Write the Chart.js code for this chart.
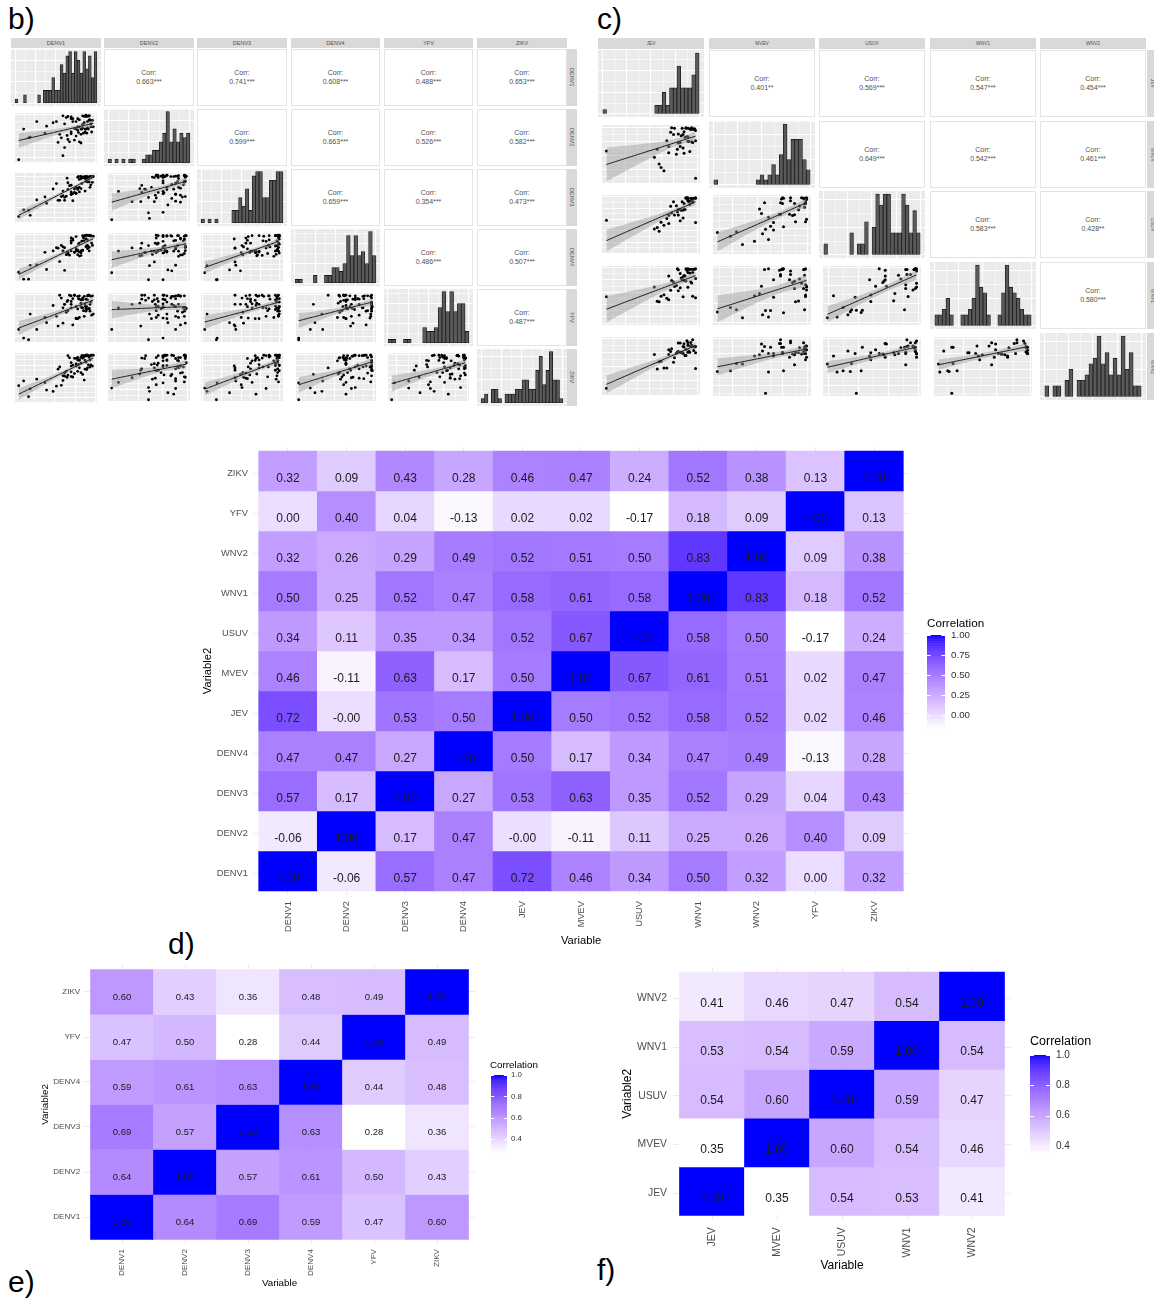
<!DOCTYPE html>
<html lang="en">
<head>
<meta charset="utf-8">
<title>Flavivirus antibody correlations</title>
<script src="https://cdn.jsdelivr.net/npm/chart.js@4.4.1/dist/chart.umd.min.js"></script>
<style>
  html, body { margin: 0; padding: 0; background: #ffffff; }
  body { position: relative; width: 1154px; height: 1299px; overflow: hidden;
         font-family: "Liberation Sans", Arial, Helvetica, sans-serif; }
  canvas { position: absolute; }
  .tag { position: absolute; font-size: 30px; line-height: 30px; color: #000; }
  .strip { position: absolute; background: #d9d9d9; color: #4d4d4d; display: flex; opacity: 0.99;
           align-items: center; justify-content: center; overflow: hidden; white-space: nowrap; }
  .strip.side span { writing-mode: vertical-rl; }
  .corr { position: absolute; box-sizing: border-box; background: #fff; border: 1px solid #e4e4e4;
          color: #505050; display: flex; flex-direction: column; align-items: center; opacity: 0.99;
          justify-content: center; text-align: center; white-space: nowrap; }
</style>
</head>
<body>
<div class="tag" style="left:8px;top:4px">b)</div>
<div class="tag" style="left:597px;top:4px">c)</div>
<div class="tag" style="left:168px;top:929px">d)</div>
<div class="tag" style="left:8px;top:1267px">e)</div>
<div class="tag" style="left:597px;top:1255px">f)</div>
<script>
// ---------------------------------------------------------------------------
// Panel b: DENV1-4, YFV, ZIKV (one value per serum sample)
// ---------------------------------------------------------------------------
const bVars = ['DENV1', 'DENV2', 'DENV3', 'DENV4', 'YFV', 'ZIKV'];
const bDENV1 = [90,78,72,95,70,84,58,88,82,6, 93,76,89,62,85,40,86,74,97,70, 52,80,92,68,18,87,66,94,65,83, 48,76,90,72,88,60,92,80,12,84, 64,91,78,82,54,96,70,79,93,28, 74,88,66,86,56,94,78,38,90,76, 92,60,84,20,87,80,62,89,70,82];
const bDENV2 = [97,73,88,70,67,98,60,97,51,22, 90,88,68,84,68,80,86,76,79,70, 88,79,98,53,60,75,97,84,64,75, 86,63,88,93,75,29,98,53,75,83, 95,75,79,66,52,90,96,69,91,88, 56,99,57,97,66,79,93,68,77,75, 91,98,77,61,70,91,43,98,93,75];
const bDENV3 = [86,97,58,98,56,96,51,99,70,3, 97,58,99,49,98,35,96,61,99,62, 82,73,86,77,18,64,84,79,95,82, 69,73,97,41,87,64,98,62,19,96, 52,94,68,94,42,85,78,99,73,43, 69,97,68,98,42,99,71,50,96,59, 98,53,96,6,94,92,42,94,56,99];
const bDENV4 = [89,67,88,82,82,66,77,91,55,19, 98,70,99,23,93,25,87,62,97,65, 72,63,98,56,4,98,60,97,58,86, 65,65,70,91,74,65,73,82,4,98, 57,98,65,65,71,77,87,80,98,35, 62,98,62,97,42,98,57,62,77,96, 65,74,67,34,98,54,72,76,93,61];
const bYFV   = [97,74,92,63,82,76,93,70,84,38, 70,78,78,82,71,50,96,98,65,87, 61,97,74,98,20,83,71,96,87,76, 80,57,97,46,91,76,75,91,23,93, 68,98,57,90,44,97,76,92,82,38, 98,75,89,61,98,86,96,59,90,58, 98,49,90,65,79,59,82,73,97,78];
const bZIKV  = [98,61,48,97,49,91,29,98,58,28, 87,91,65,57,93,18,97,56,98,81, 27,88,94,92,3,86,52,98,47,97, 15,78,69,75,96,40,96,69,39,54, 61,76,87,80,66,73,73,77,71,43, 91,82,97,41,71,76,93,35,98,73, 93,51,97,21,66,86,50,98,60,93];

// histogram bin counts on the diagonal
const bHistDENV1 = [1,0,0,2,0,0,0,0,2,0,3,3,3,6,3,3,9,7,11,12,7,12,10,7,12,8,11,6,12];
const bHistDENV2 = [1,0,1,0,1,0,1,1,0,0,1,2,2,3,3,5,7,12,5,8,5,7,6,7];
const bHistDENV3 = [1,0,1,0,1,0,0,0,0,3,3,6,4,8,3,11,12,12,6,6,10,10,12,12];
const bHistDENV4 = [1,1,0,0,0,2,0,0,2,2,4,4,3,5,12,7,12,7,8,5,13,7];
const bHistYFV   = [1,1,0,0,1,1,0,0,0,4,3,3,4,9,13,8,13,8,10,10,3];
const bHistZIKV  = [1,2,0,3,3,1,0,2,2,2,3,3,5,5,3,3,7,10,4,7,11,5,5,1];

// upper triangle, row by row
const bCorr  = [0.663, 0.741, 0.608, 0.488, 0.653, 0.599, 0.663, 0.526, 0.582, 0.659, 0.354, 0.473, 0.486, 0.507, 0.487];
const bStars = ['***','***','***','***','***','***','***','***','***','***','***','***','***','***','***'];

// ---------------------------------------------------------------------------
// Panel c: JEV, MVEV, USUV, WNV1, WNV2
// ---------------------------------------------------------------------------
const cVars = ['JEV', 'MVEV', 'USUV', 'WNV1', 'WNV2'];
const cJEV  = [92,85,96,78,88,70,94,82,5,90, 75,86,97,60,84,91,72,80,95,65, 88,79,93,55,87,82,98,70,90,62, 85,92,76,89,68,95,83,98,58,86, 80,94,73,90,98];
const cMVEV = [97,63,96,52,98,55,99,66,58,83, 87,54,97,35,98,75,91,72,97,23, 99,61,96,47,82,73,94,66,98,29, 87,57,98,83,76,73,85,76,61,92, 88,74,99,75,10];
const cUSUV = [83,53,97,80,97,41,95,47,48,93, 89,73,96,24,89,89,79,72,88,37, 98,67,97,29,72,72,98,59,91,44, 71,90,60,98,52,90,70,97,32,85, 60,96,64,98,43];
const cWNV1 = [89,41,97,64,98,35,69,59,41,90, 71,74,97,31,76,97,54,96,42,45, 73,98,71,61,83,88,78,83,60,42, 81,97,62,95,38,90,79,98,32,84, 53,97,74,98,39];
const cWNV2 = [76,86,79,74,81,80,88,76,12,93, 58,91,85,59,76,78,77,92,86,48, 70,76,93,72,70,92,75,72,88,60, 74,87,66,96,48,98,75,86,46,85, 77,86,82,76,47];

const cHistJEV  = [1,0,0,0,0,0,0,0,0,0,0,0,0,0,2,2,5,2,6,6,11,6,6,6,9,14];
const cHistMVEV = [1,0,0,0,0,0,0,0,0,0,0,1,2,1,2,4,2,6,12,5,9,9,9,5,3];
const cHistUSUV = [2,0,0,0,0,0,0,4,0,2,2,6,0,5,11,9,11,11,4,4,4,11,9,4,8,4];
const cHistWNV1 = [2,2,3,5,2,0,0,2,2,3,5,11,7,6,2,0,0,2,6,11,7,6,5,3,2,2];
const cHistWNV2 = [2,0,2,2,0,3,5,0,3,3,4,6,7,11,6,8,4,7,4,11,5,8,2,2];

const cCorr  = [0.401, 0.569, 0.547, 0.454, 0.649, 0.542, 0.461, 0.583, 0.428, 0.580];
const cStars = ['**','***','***','***','***','***','***','***','**','***'];

// ---------------------------------------------------------------------------
// Panels d-f: correlation matrices (row = Variable2, column = Variable)
// ---------------------------------------------------------------------------
const dVars = ['DENV1','DENV2','DENV3','DENV4','JEV','MVEV','USUV','WNV1','WNV2','YFV','ZIKV'];
const dCorr = [
  [1.00, -0.06, 0.57, 0.47, 0.72, 0.46, 0.34, 0.50, 0.32, 0.00, 0.32],
  [-0.06, 1.00, 0.17, 0.47, -0.004, -0.11, 0.11, 0.25, 0.26, 0.40, 0.09],
  [0.57, 0.17, 1.00, 0.27, 0.53, 0.63, 0.35, 0.52, 0.29, 0.04, 0.43],
  [0.47, 0.47, 0.27, 1.00, 0.50, 0.17, 0.34, 0.47, 0.49, -0.13, 0.28],
  [0.72, -0.004, 0.53, 0.50, 1.00, 0.50, 0.52, 0.58, 0.52, 0.02, 0.46],
  [0.46, -0.11, 0.63, 0.17, 0.50, 1.00, 0.67, 0.61, 0.51, 0.02, 0.47],
  [0.34, 0.11, 0.35, 0.34, 0.52, 0.67, 1.00, 0.58, 0.50, -0.17, 0.24],
  [0.50, 0.25, 0.52, 0.47, 0.58, 0.61, 0.58, 1.00, 0.83, 0.18, 0.52],
  [0.32, 0.26, 0.29, 0.49, 0.52, 0.51, 0.50, 0.83, 1.00, 0.09, 0.38],
  [0.00, 0.40, 0.04, -0.13, 0.02, 0.02, -0.17, 0.18, 0.09, 1.00, 0.13],
  [0.32, 0.09, 0.43, 0.28, 0.46, 0.47, 0.24, 0.52, 0.38, 0.13, 1.00]
];
const dLegendTicks = [0, 0.25, 0.5, 0.75, 1];

const eVars = ['DENV1','DENV2','DENV3','DENV4','YFV','ZIKV'];
const eCorr = [
  [1.00, 0.64, 0.69, 0.59, 0.47, 0.60],
  [0.64, 1.00, 0.57, 0.61, 0.50, 0.43],
  [0.69, 0.57, 1.00, 0.63, 0.28, 0.36],
  [0.59, 0.61, 0.63, 1.00, 0.44, 0.48],
  [0.47, 0.50, 0.28, 0.44, 1.00, 0.49],
  [0.60, 0.43, 0.36, 0.48, 0.49, 1.00]
];
const eLegendTicks = [0.4, 0.6, 0.8, 1.0];

const fVars = ['JEV','MVEV','USUV','WNV1','WNV2'];
const fCorr = [
  [1.00, 0.35, 0.54, 0.53, 0.41],
  [0.35, 1.00, 0.60, 0.54, 0.46],
  [0.54, 0.60, 1.00, 0.59, 0.47],
  [0.53, 0.54, 0.59, 1.00, 0.54],
  [0.41, 0.46, 0.47, 0.54, 1.00]
];
const fLegendTicks = [0.4, 0.6, 0.8, 1.0];

// ---------------------------------------------------------------------------
// Chart.js defaults
// ---------------------------------------------------------------------------
const FONT = '"Liberation Sans", Arial, Helvetica, sans-serif';
Chart.defaults.font.family = FONT;
Chart.defaults.animation = false;
Chart.defaults.responsive = false;
Chart.defaults.events = [];
Chart.defaults.plugins.legend.display = false;
Chart.defaults.plugins.tooltip.enabled = false;

// ---------------------------------------------------------------------------
// helpers
// ---------------------------------------------------------------------------
function makeCanvas(x, y, w, h) {
  const c = document.createElement('canvas');
  const L = Math.round(x), T = Math.round(y);
  const W = Math.round(x + w) - L, H = Math.round(y + h) - T;
  c.width = W; c.height = H;
  c.style.left = L + 'px'; c.style.top = T + 'px';
  c.style.width = W + 'px'; c.style.height = H + 'px';
  document.body.appendChild(c);
  return c;
}

function addBox(cls, x, y, w, h) {
  const d = document.createElement('div');
  d.className = cls;
  const L = Math.round(x), T = Math.round(y);
  d.style.left = L + 'px'; d.style.top = T + 'px';
  d.style.width = (Math.round(x + w) - L) + 'px';
  d.style.height = (Math.round(y + h) - T) + 'px';
  document.body.appendChild(d);
  return d;
}

// grey panel background behind the white grid
const panelFill = {
  id: 'panelFill',
  beforeDraw(chart, args, opts) {
    const a = chart.chartArea, ctx = chart.ctx;
    ctx.save();
    ctx.fillStyle = opts.color || '#ebebeb';
    ctx.fillRect(a.left, a.top, a.right - a.left, a.bottom - a.top);
    ctx.restore();
  }
};

function gridTicks(min, max, major, minor) {
  const out = [];
  const start = Math.ceil((min - 1e-9) / minor) * minor;
  for (let v = start; v <= max + 1e-9; v += minor) {
    const r = v / major;
    out.push({ value: v, major: Math.abs(r - Math.round(r)) < 1e-6 });
  }
  return out;
}

// invisible axis that only draws white major/minor grid lines
function panelAxis(min, max, major, minor) {
  return {
    type: 'linear', min, max, offset: false,
    ticks: { display: false },
    border: { display: false },
    grid: { offset: false, drawTicks: false, color: '#ffffff',
            lineWidth: (c) => (c.tick && c.tick.major ? 1.1 : 0.55) },
    afterBuildTicks: (s) => { s.ticks = gridTicks(min, max, major, minor); }
  };
}

function linearFit(xs, ys) {
  const n = xs.length;
  const mx = xs.reduce((a, b) => a + b, 0) / n;
  const my = ys.reduce((a, b) => a + b, 0) / n;
  let sxx = 0, sxy = 0;
  for (let i = 0; i < n; i++) { sxx += (xs[i] - mx) ** 2; sxy += (xs[i] - mx) * (ys[i] - my); }
  const slope = sxy / sxx, icpt = my - slope * mx;
  let sse = 0;
  for (let i = 0; i < n; i++) sse += (ys[i] - icpt - slope * xs[i]) ** 2;
  return { n, mx, sxx, slope, icpt, s: Math.sqrt(sse / (n - 2)) };
}

// scatter with least-squares line and its 95% confidence band
function scatterPanel(x, y, w, h, xs, ys, radius) {
  const fit = linearFit(xs, ys);
  const x0 = Math.min(...xs), x1 = Math.max(...xs);
  const tq = 1.99;
  const line = [], upper = [], lower = [];
  const steps = 60;
  for (let k = 0; k <= steps; k++) {
    const xv = x0 + (x1 - x0) * k / steps;
    const yv = fit.icpt + fit.slope * xv;
    const se = fit.s * Math.sqrt(1 / fit.n + (xv - fit.mx) ** 2 / fit.sxx);
    line.push({ x: xv, y: yv });
    upper.push({ x: xv, y: yv + tq * se });
    lower.push({ x: xv, y: yv - tq * se });
  }
  const y0 = Math.min(...ys, ...lower.map(p => p.y));
  const y1 = Math.max(...ys, ...upper.map(p => p.y));
  const ex = (x1 - x0) * 0.05, ey = (y1 - y0) * 0.05;
  const pts = xs.map((v, i) => ({ x: v, y: ys[i] }));
  new Chart(makeCanvas(x, y, w, h), {
    type: 'scatter',
    data: { datasets: [
      { type: 'line', data: line, borderColor: '#161616', borderWidth: 1, pointRadius: 0, fill: false },
      { type: 'line', data: upper, borderColor: 'rgba(0,0,0,0)', borderWidth: 1, pointRadius: 0, fill: false },
      { type: 'line', data: lower, borderColor: 'rgba(0,0,0,0)', borderWidth: 1, pointRadius: 0,
        fill: '-1', backgroundColor: 'rgba(153,153,153,0.45)' },
      { type: 'scatter', data: pts, pointRadius: radius, backgroundColor: '#000', borderColor: '#000',
        pointBorderWidth: 0 }
    ] },
    options: {
      layout: { padding: 0 },
      scales: { x: panelAxis(x0 - ex, x1 + ex, 25, 12.5), y: panelAxis(y0 - ey, y1 + ey, 25, 12.5) },
      plugins: { panelFill: { color: '#ebebeb' } }
    },
    plugins: [panelFill]
  });
}

function histPanel(x, y, w, h, counts) {
  const nb = counts.length, top = Math.max(...counts);
  const bars = [];
  counts.forEach((c, i) => { if (c > 0) bars.push({ x: i + 0.5, y: c }); });
  new Chart(makeCanvas(x, y, w, h), {
    type: 'bar',
    data: { datasets: [{ data: bars, backgroundColor: '#595959', borderColor: '#1a1a1a', borderWidth: 0.8,
                         borderSkipped: false, barPercentage: 1, categoryPercentage: 1 }] },
    options: {
      layout: { padding: 0 },
      scales: { x: panelAxis(-nb * 0.05, nb * 1.05, nb / 4, nb / 8), y: panelAxis(-top * 0.05, top * 1.05, 5, 2.5) },
      plugins: { panelFill: { color: '#ebebeb' } }
    },
    plugins: [panelFill]
  });
}

function corrBox(x, y, w, h, value, stars, size) {
  const d = addBox('corr', x, y, w, h);
  d.style.fontSize = size + 'px';
  d.style.lineHeight = (size * 1.28) + 'px';
  d.innerHTML = '<span>Corr:</span><span>' + value.toFixed(3) + stars + '</span>';
}

function strip(x, y, w, h, text, size, side) {
  const d = addBox(side ? 'strip side' : 'strip', x, y, w, h);
  d.style.fontSize = size + 'px';
  d.innerHTML = '<span>' + text + '</span>';
}

// generalized pairs plot: histograms on the diagonal, correlations above, scatter below
function pairsMatrix(L, vars, series, hists, corr, stars) {
  const n = vars.length;
  let k = 0;
  for (let i = 0; i < n; i++) strip(L.x0 + L.px * i, L.stripY, L.w, L.stripH, vars[i], L.stripFont, false);
  for (let r = 0; r < n; r++) {
    const ry = L.y0 + L.py * r;
    strip(L.sideX, ry, L.sideW, L.h, vars[r], L.stripFont, true);
    for (let c = 0; c < n; c++) {
      const cx = L.x0 + L.px * c;
      if (r === c) histPanel(cx, ry, L.w, L.h, hists[r]);
      else if (c > r) { corrBox(cx, ry, L.w, L.h, corr[k], stars[k], L.corrFont); k++; }
      else scatterPanel(cx, ry, L.w, L.h, series[c], series[r], L.radius);
    }
  }
}

// ---------------------------------------------------------------------------
// white -> blue fill, interpolated in CIE Lab
// ---------------------------------------------------------------------------
function toLinear(c) { c /= 255; return c <= 0.04045 ? c / 12.92 : Math.pow((c + 0.055) / 1.055, 2.4); }
function toGamma(c) { c = c <= 0.0031308 ? 12.92 * c : 1.055 * Math.pow(Math.max(c, 0), 1 / 2.4) - 0.055; return Math.round(255 * Math.min(1, Math.max(0, c))); }
const WREF = [0.95047, 1, 1.08883];
function rgbToLab(rgb) {
  const [r, g, b] = rgb.map(toLinear);
  const X = (0.4124 * r + 0.3576 * g + 0.1805 * b) / WREF[0];
  const Y = (0.2126 * r + 0.7152 * g + 0.0722 * b) / WREF[1];
  const Z = (0.0193 * r + 0.1192 * g + 0.9505 * b) / WREF[2];
  const f = t => t > 0.008856 ? Math.cbrt(t) : 7.787 * t + 16 / 116;
  const fx = f(X), fy = f(Y), fz = f(Z);
  return [116 * fy - 16, 500 * (fx - fy), 200 * (fy - fz)];
}
function labToRgb(lab) {
  const [L, a, b] = lab;
  const fy = (L + 16) / 116, fx = fy + a / 500, fz = fy - b / 200;
  const inv = t => { const t3 = t * t * t; return t3 > 0.008856 ? t3 : (t - 16 / 116) / 7.787; };
  const X = inv(fx) * WREF[0], Y = inv(fy) * WREF[1], Z = inv(fz) * WREF[2];
  return [toGamma(3.2406 * X - 1.5372 * Y - 0.4986 * Z),
          toGamma(-0.9689 * X + 1.8758 * Y + 0.0415 * Z),
          toGamma(0.0557 * X - 0.2040 * Y + 1.0570 * Z)];
}
const LAB_LOW = rgbToLab([255, 255, 255]), LAB_HIGH = rgbToLab([0, 0, 255]);
function tileColor(v, lo, hi) {
  const t = Math.min(1, Math.max(0, (v - lo) / (hi - lo)));
  const [r, g, b] = labToRgb(LAB_LOW.map((c, i) => c + (LAB_HIGH[i] - c) * t));
  return 'rgb(' + r + ',' + g + ',' + b + ')';
}

// value labels inside the tiles
const cellText = {
  id: 'cellText',
  afterDatasetsDraw(chart, args, o) {
    const ctx = chart.ctx, meta = chart.getDatasetMeta(0), data = chart.data.datasets[0].data;
    ctx.save();
    ctx.font = o.size + 'px ' + FONT;
    ctx.fillStyle = '#1a1a1a';
    ctx.textAlign = 'center';
    ctx.textBaseline = 'middle';
    meta.data.forEach((el, i) => {
      const p = el.getCenterPoint();
      ctx.fillText(data[i].v.toFixed(2), p.x, p.y + o.dy);
    });
    ctx.restore();
  }
};

// continuous colour bar legend
const colorBar = {
  id: 'colorBar',
  afterDraw(chart, args, o) {
    const ctx = chart.ctx;
    const span = o.bottom - o.top, N = 150;
    ctx.save();
    for (let k = 0; k < N; k++) {
      const v = o.lo + (o.hi - o.lo) * (k + 0.5) / N;
      const yb = o.bottom - span * k / N, yt = o.bottom - span * (k + 1) / N;
      ctx.fillStyle = tileColor(v, o.lo, o.hi);
      ctx.fillRect(o.x, yt, o.w, yb - yt + 0.5);
    }
    const yOf = v => o.bottom - (v - o.lo) / (o.hi - o.lo) * span;
    ctx.strokeStyle = '#ffffff';
    ctx.lineWidth = 1;
    o.ticks.forEach(v => {
      const yy = Math.round(yOf(v)) + 0.5;
      ctx.beginPath();
      ctx.moveTo(o.x, yy); ctx.lineTo(o.x + o.w / 5, yy);
      ctx.moveTo(o.x + o.w, yy); ctx.lineTo(o.x + o.w * 4 / 5, yy);
      ctx.stroke();
    });
    ctx.fillStyle = '#333333';
    ctx.font = o.labelSize + 'px ' + FONT;
    ctx.textAlign = 'left';
    ctx.textBaseline = 'middle';
    o.ticks.forEach(v => ctx.fillText(v.toFixed(o.digits), o.labelX, yOf(v)));
    ctx.fillStyle = '#000000';
    ctx.font = o.titleSize + 'px ' + FONT;
    ctx.fillText('Correlation', o.titleX, o.titleY);
    ctx.restore();
  }
};

function heatmap(cfg) {
  const { names, values, box, tiles, fonts, pads, legend } = cfg;
  const n = names.length;
  const flat = values.flat();
  const lo = Math.min(...flat), hi = Math.max(...flat);
  const cells = [], fills = [];
  for (let r = 0; r < n; r++) {
    for (let c = 0; c < n; c++) {
      cells.push({ x: c + 0.5, y: [r, r + 1], v: values[r][c] });
      fills.push(tileColor(values[r][c], lo, hi));
    }
  }
  const cw = (tiles.right - tiles.left) / n, ch = (tiles.bottom - tiles.top) / n;
  const area = { left: tiles.left - 0.1 * cw, right: tiles.right + 0.1 * cw,
                 top: tiles.top - 0.1 * ch, bottom: tiles.bottom + 0.1 * ch };
  const canvas = makeCanvas(box.x, box.y, box.w, box.h);
  const bx = Math.round(box.x), by = Math.round(box.y), W = canvas.width, H = canvas.height;
  const labelOf = v => names[Math.floor(v)];
  new Chart(canvas, {
    type: 'bar',
    data: { datasets: [{ data: cells, backgroundColor: fills, borderWidth: 0,
                         barPercentage: 1, categoryPercentage: 1 }] },
    options: {
      layout: { padding: { left: 0, bottom: 0, top: area.top - by, right: bx + W - area.right } },
      scales: {
        x: {
          type: 'linear', min: -0.1, max: n + 0.1, offset: false,
          afterBuildTicks: s => { s.ticks = names.map((_, i) => ({ value: i + 0.5 })); },
          afterFit: s => { s.height = by + H - area.bottom; },
          ticks: { autoSkip: false, minRotation: 90, maxRotation: 90, padding: pads.xTick,
                   color: '#4d4d4d', font: { size: fonts.axis }, callback: labelOf },
          grid: { offset: false, drawTicks: false, color: '#ebebeb', lineWidth: 1 },
          border: { display: false },
          title: { display: true, text: 'Variable', color: '#000000', font: { size: fonts.title },
                   padding: { top: 0, bottom: pads.xTitle } }
        },
        y: {
          type: 'linear', min: -0.1, max: n + 0.1,
          afterBuildTicks: s => { s.ticks = names.map((_, i) => ({ value: i + 0.5 - pads.yShift })); },
          afterFit: s => { s.width = area.left - bx; },
          ticks: { autoSkip: false, padding: pads.yTick, color: '#4d4d4d',
                   font: { size: fonts.axis }, callback: labelOf },
          grid: { drawTicks: false, color: '#ebebeb', lineWidth: 1 },
          border: { display: false },
          title: { display: true, text: 'Variable2', color: '#000000', font: { size: fonts.title },
                   padding: { top: pads.yTitle, bottom: 0 } }
        }
      },
      plugins: {
        cellText: { size: fonts.cell, dy: pads.cellDy },
        colorBar: {
          lo, hi, ticks: legend.ticks, digits: legend.digits,
          x: legend.x - bx, w: legend.w, top: legend.top - by, bottom: legend.bottom - by,
          labelX: legend.labelX - bx, labelSize: fonts.legendLabel,
          titleX: legend.titleX - bx, titleY: legend.titleY - by, titleSize: fonts.legendTitle
        }
      }
    },
    plugins: [cellText, colorBar]
  });
}

// ---------------------------------------------------------------------------
// draw
// ---------------------------------------------------------------------------
pairsMatrix(
  { x0: 11, px: 93.2, w: 89.5, y0: 49, py: 60, h: 57, stripY: 38, stripH: 10,
    sideX: 567, sideW: 10, stripFont: 5.5, corrFont: 7, radius: 1.4 },
  bVars, [bDENV1, bDENV2, bDENV3, bDENV4, bYFV, bZIKV],
  [bHistDENV1, bHistDENV2, bHistDENV3, bHistDENV4, bHistYFV, bHistZIKV],
  bCorr, bStars);

pairsMatrix(
  { x0: 598, px: 110.6, w: 106, y0: 50, py: 70.7, h: 67, stripY: 38, stripH: 11,
    sideX: 1147, sideW: 10, stripFont: 4.8, corrFont: 7, radius: 1.5 },
  cVars, [cJEV, cMVEV, cUSUV, cWNV1, cWNV2],
  [cHistJEV, cHistMVEV, cHistUSUV, cHistWNV1, cHistWNV2],
  cCorr, cStars);

heatmap({
  names: dVars, values: dCorr,
  box: { x: 180, y: 430, w: 840, h: 530 },
  tiles: { left: 258.7, right: 903.3, top: 451, bottom: 891 },
  fonts: { axis: 9.3, title: 11.2, cell: 12, legendTitle: 11.7, legendLabel: 9.8 },
  pads: { xTick: 6, yTick: 5, xTitle: 12.3, yTitle: 21.2, cellDy: 8, yShift: 0.07 },
  legend: { x: 927, w: 18, top: 635, bottom: 728.6, labelX: 951, titleX: 927, titleY: 624,
            ticks: dLegendTicks, digits: 2 }
});

heatmap({
  names: eVars, values: eCorr,
  box: { x: 0, y: 955, w: 560, h: 335 },
  tiles: { left: 90.5, right: 468.5, top: 969.5, bottom: 1239.5 },
  fonts: { axis: 8.1, title: 9.8, cell: 9.5, legendTitle: 9.8, legendLabel: 7.9 },
  pads: { xTick: 5, yTick: 4, xTitle: 1.1, yTitle: 39.1, cellDy: 5, yShift: 0 },
  legend: { x: 491, w: 16, top: 1075, bottom: 1152, labelX: 511, titleX: 490, titleY: 1065,
            ticks: eLegendTicks, digits: 1 }
});

heatmap({
  names: fVars, values: fCorr,
  box: { x: 590, y: 955, w: 564, h: 335 },
  tiles: { left: 679.5, right: 1004.5, top: 970.5, bottom: 1215.5 },
  fonts: { axis: 10.4, title: 12, cell: 12, legendTitle: 12.5, legendLabel: 10 },
  pads: { xTick: 7, yTick: 6, xTitle: 16.8, yTitle: 30.6, cellDy: 7, yShift: 0.04 },
  legend: { x: 1030, w: 20, top: 1055, bottom: 1153.6, labelX: 1056, titleX: 1030, titleY: 1042,
            ticks: fLegendTicks, digits: 1 }
});
</script>
</body>
</html>
